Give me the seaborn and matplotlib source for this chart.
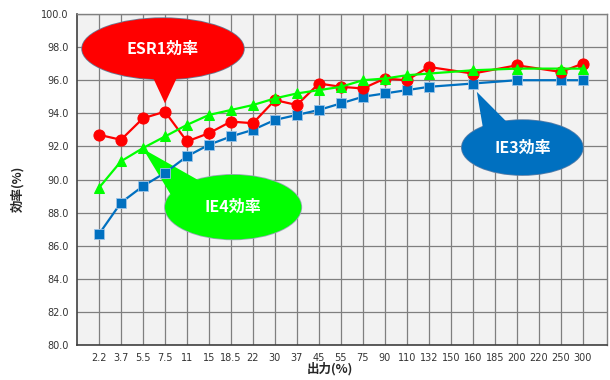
import numpy as np
import pandas as pd
import matplotlib
matplotlib.use("Agg")
import matplotlib.pyplot as plt
import seaborn as sns
from matplotlib.patches import Ellipse, Polygon

categories = ["2.2", "3.7", "5.5", "7.5", "11", "15", "18.5", "22", "30", "37", "45", "55",
              "75", "90", "110", "132", "150", "160", "185", "200", "220", "250", "300"]

esr1_cats = ["2.2", "3.7", "5.5", "7.5", "11", "15", "18.5", "22", "30", "37", "45", "55",
             "75", "90", "110", "132", "160", "200", "250", "300"]
esr1_vals = [92.7, 92.4, 93.7, 94.1, 92.3, 92.8, 93.5, 93.4, 94.8, 94.5, 95.8, 95.6,
             95.5, 96.1, 96.0, 96.8, 96.4, 96.9, 96.5, 97.0]
ie4_vals = [89.5, 91.1, 91.9, 92.6, 93.3, 93.9, 94.2, 94.5, 94.9, 95.2, 95.4, 95.6,
            96.0, 96.1, 96.3, 96.4, 96.6, 96.7, 96.7, 96.7]
ie3_vals = [86.7, 88.6, 89.6, 90.4, 91.4, 92.1, 92.6, 93.0, 93.6, 93.9, 94.2, 94.6,
            95.0, 95.2, 95.4, 95.6, 95.8, 96.0, 96.0, 96.0]

y_ticks = [80.0, 82.0, 84.0, 86.0, 88.0, 90.0, 92.0, 94.0, 96.0, 98.0, 100.0]

sns.set_theme(style="white")
plt.rcParams["font.family"] = ["DejaVu Sans", "Noto Sans CJK JP"]
JP = ["Noto Sans CJK JP", "DejaVu Sans"]

pos = {c: i for i, c in enumerate(categories)}
xs = [pos[c] for c in esr1_cats]

fig = plt.figure(figsize=(6.1, 3.8), dpi=100)
ax = fig.add_axes([77 / 610, 35 / 380, 530 / 610, 331 / 380])
ax.set_facecolor("#f2f2f2")

# grid
for i in range(len(categories)):
    ax.axvline(i, color="#7f7f7f", lw=0.9, zorder=1)
for yv in y_ticks:
    ax.axhline(yv, color="#7f7f7f", lw=0.9, zorder=1)

# callouts (drawn below lines)
def callout(cx, cy, w, h, tail, color, text, edge):
    e1 = Ellipse((cx, cy), w, h, facecolor=color, edgecolor=edge, lw=1.2, zorder=2)
    ax.add_patch(e1)
    p = Polygon(tail, closed=True, facecolor=color, edgecolor="none", zorder=2.1)
    ax.add_patch(p)
    e2 = Ellipse((cx, cy), w, h, facecolor=color, edgecolor="none", zorder=2.2)
    ax.add_patch(e2)
    ax.text(cx, cy, text, color="white", fontsize=11.5, fontweight="bold",
            ha="center", va="center", zorder=2.3, family=JP)

callout(2.91, 97.9, 7.36, 3.7, [(2.3, 96.6), (3.7, 96.6), (3.0, 94.6)],
        "#ff0000", "ESR1効率", "#6a7d95")
callout(6.1, 88.33, 6.2, 3.9, [(2.0, 91.85), (3.3, 89.0), (5.0, 89.6)],
        "#00ff00", "IE4効率", "#9aa8b8")
callout(19.25, 91.93, 5.5, 3.32, [(17.18, 95.3), (17.5, 92.8), (18.9, 93.0)],
        "#0070c0", "IE3効率", "#5a7fa8")

sns.lineplot(x=xs, y=ie3_vals, ax=ax, color="#0070c0", lw=1.6, marker="s",
             markersize=7, markeredgecolor="#9dc3e6", markeredgewidth=0.6, zorder=3)
sns.lineplot(x=xs, y=esr1_vals, ax=ax, color="#ff0000", lw=1.6, marker="o",
             markersize=8, markeredgecolor="#ff0000", zorder=4)
sns.lineplot(x=xs, y=ie4_vals, ax=ax, color="#00ff00", lw=1.6, marker="^",
             markersize=7, markeredgecolor="#00ff00", zorder=5)

ax.set_xlim(-1, 23.1)
ax.set_ylim(80, 100)
ax.set_xticks(range(len(categories)))
ax.set_xticklabels(categories, fontsize=7, color="#333333")
ax.set_yticks(y_ticks)
ax.set_yticklabels([f"{v:.1f}" for v in y_ticks], fontsize=7, color="#333333")
ax.tick_params(axis="both", length=0, pad=6)

for s in ["left", "bottom"]:
    ax.spines[s].set_color("#404040")
    ax.spines[s].set_linewidth(1.2)
for s in ["top", "right"]:
    ax.spines[s].set_color("#808080")
    ax.spines[s].set_linewidth(1.0)

ax.set_xlabel("")
ax.set_ylabel("")
fig.text(330 / 610, 1 - 369 / 380, "出力(%)", fontsize=9, fontweight="bold",
         ha="center", va="center", family=JP)
fig.text(18 / 610, 1 - 189 / 380, "効率(%)", fontsize=9, fontweight="bold",
         ha="center", va="center", rotation=90, family=JP)

fig.savefig("out.png", dpi=100)
